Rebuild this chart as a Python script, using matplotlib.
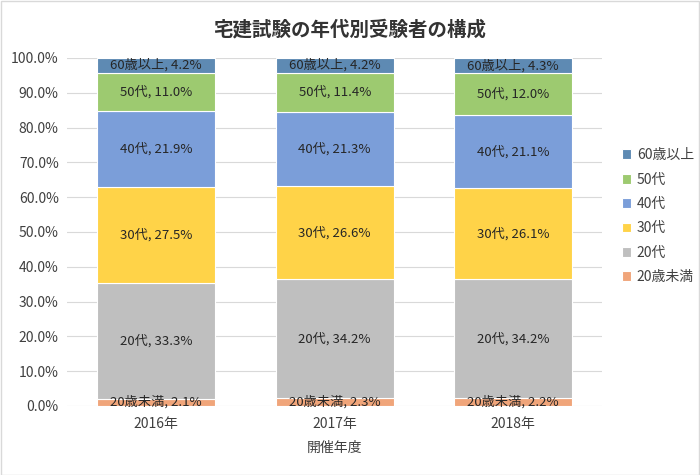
import matplotlib
matplotlib.use("Agg")
import matplotlib.pyplot as plt
from matplotlib.ticker import FuncFormatter
from matplotlib.patches import Rectangle

plt.rcParams['font.family'] = ['Noto Sans CJK JP', 'DejaVu Sans']

years = ['2016年', '2017年', '2018年']
categories = ['20歳未満', '20代', '30代', '40代', '50代', '60歳以上']
under20 = [2.1, 2.3, 2.2]
age20s = [33.3, 34.2, 34.2]
age30s = [27.5, 26.6, 26.1]
age40s = [21.9, 21.3, 21.1]
age50s = [11.0, 11.4, 12.0]
over60 = [4.2, 4.2, 4.3]
series = [under20, age20s, age30s, age40s, age50s, over60]
colors = ['#F0A57A', '#BFBFBF', '#FFD348', '#7B9ED9', '#9DCA70', '#5E8AB3']

fig = plt.figure(figsize=(7, 4.75), dpi=100)
ax = fig.add_axes([0.0957, 0.1453, 0.765, 0.7327])

x = list(range(len(years)))
bottom = [0.0] * len(years)
handles = []
for name, vals, col in zip(categories, series, colors):
    bars = ax.bar(x, vals, width=0.66, bottom=bottom, color=col,
                  edgecolor='white', linewidth=0.8, label=name, zorder=3)
    handles.append(bars)
    for xi, v, b in zip(x, vals, bottom):
        ax.text(xi, b + v / 2, f'{name}, {v:.1f}%', ha='center', va='center',
                fontsize=9.5, color='#262626', zorder=4)
    bottom = [b + v for b, v in zip(bottom, vals)]

ax.set_ylim(0, 100)
ax.set_xlim(-0.5, 2.5)
ax.set_yticks(range(0, 101, 10))
ax.yaxis.set_major_formatter(FuncFormatter(lambda v, p: f'{v:.1f}%'))
ax.set_xticks(x)
ax.set_xticklabels(years)
ax.tick_params(axis='both', length=0, labelsize=10, colors='#404040')
ax.tick_params(axis='x', pad=8)
ax.tick_params(axis='y', pad=6)
ax.grid(axis='y', color='#D9D9D9', linewidth=0.8, zorder=0)
for s in ax.spines.values():
    s.set_visible(False)
ax.set_xlabel('開催年度', fontsize=10, color='#404040', labelpad=7)

fig.text(0.5, 0.937, '宅建試験の年代別受験者の構成', ha='center', va='center',
         fontsize=14, fontweight='bold', color='#333333')

h = handles[::-1]
l = categories[::-1]
leg = fig.legend(h, l, loc='center left', bbox_to_anchor=(0.87, 0.545),
                 frameon=False, fontsize=10, handlelength=0.7, handleheight=0.7,
                 handletextpad=0.4, labelspacing=0.75)
for t in leg.get_texts():
    t.set_color('#404040')

fig.patches.append(Rectangle((0.001, 0.001), 0.997, 0.997, transform=fig.transFigure,
                             fill=False, edgecolor='#D9D9D9', linewidth=1))

fig.savefig('out.png', dpi=100)
